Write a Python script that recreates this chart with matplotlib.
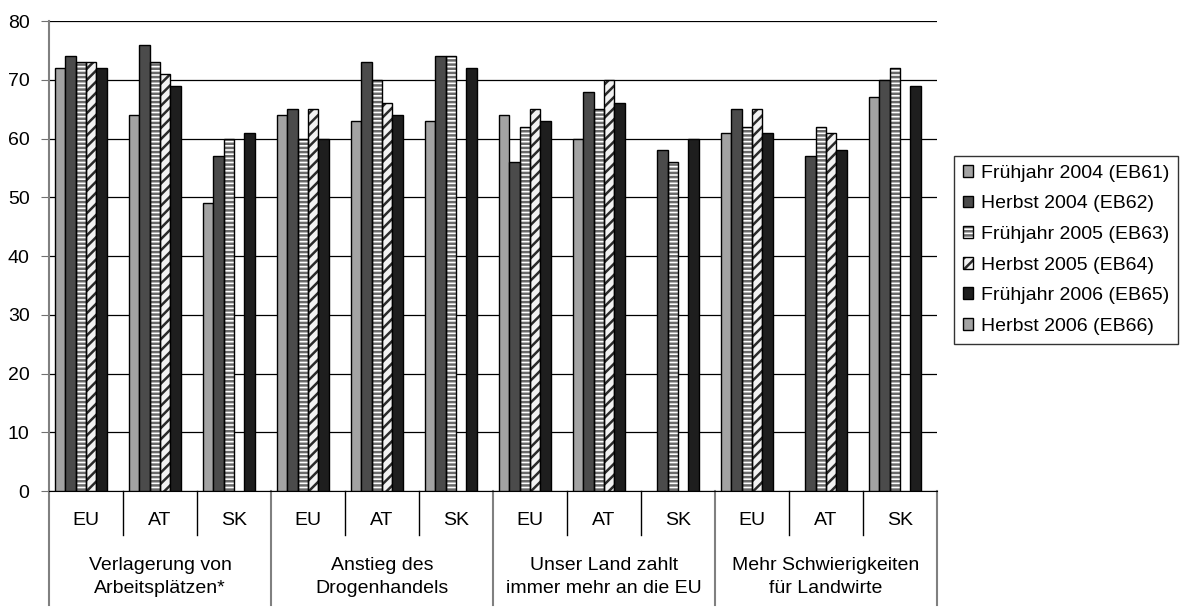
import matplotlib.pyplot as plt
import numpy as np
from matplotlib.patches import Patch

nan = np.nan

countries = ["EU", "AT", "SK"] * 4
groups = ["Verlagerung von\nArbeitsplätzen*", "Anstieg des\nDrogenhandels",
          "Unser Land zahlt\nimmer mehr an die EU", "Mehr Schwierigkeiten\nfür Landwirte"]
yticks = [0, 10, 20, 30, 40, 50, 60, 70, 80]

labels = ["Frühjahr 2004 (EB61)", "Herbst 2004 (EB62)", "Frühjahr 2005 (EB63)",
          "Herbst 2005 (EB64)", "Frühjahr 2006 (EB65)", "Herbst 2006 (EB66)"]

fr_2004 = [72, 64, 49, 64, 63, 63, 64, 60, nan, 61, nan, 67]
he_2004 = [74, 76, 57, 65, 73, 74, 56, 68, 58, 65, 57, 70]
fr_2005 = [73, 73, 60, 60, 70, 74, 62, 65, 56, 62, 62, 72]
he_2005 = [73, 71, nan, 65, 66, nan, 65, 70, nan, 65, 61, nan]
fr_2006 = [72, 69, 61, 60, 64, 72, 63, 66, 60, 61, 58, 69]
he_2006 = [nan] * 12

series = [fr_2004, he_2004, fr_2005, he_2005, fr_2006, he_2006]
# (facecolor, hatch, hatch colour)
styles = [("#a3a3a3", None, None),
          ("#4b4b4b", None, None),
          ("white", "----", "#6a6a6a"),
          ("#f2f2f2", "///", "#2a2a2a"),
          ("#1e1e1e", None, None),
          ("#a3a3a3", None, None)]

plt.rcParams['font.family'] = ['Liberation Sans', 'DejaVu Sans']
plt.rcParams['font.size'] = 14
plt.rcParams['hatch.linewidth'] = 1.8

fig = plt.figure(figsize=(11.83, 6.07), dpi=100)
ax = fig.add_axes([0.0414, 0.1911, 0.7506, 0.7743])

x = np.arange(len(countries))
w = 1 / 7.1
handles = []
for i, (vals, (fc, hatch, hc)) in enumerate(zip(series, styles)):
    vals = np.array(vals, dtype=float)
    pos = x + (i - 2.5) * w
    ok = ~np.isnan(vals)
    if hatch:
        ax.bar(pos[ok], vals[ok], w, color=fc, edgecolor=hc, linewidth=0,
               hatch=hatch, zorder=2)
        ax.bar(pos[ok], vals[ok], w, fill=False, edgecolor='black',
               linewidth=1.0, zorder=3)
        handles.append((Patch(facecolor=fc, edgecolor=hc, linewidth=0, hatch=hatch),
                        Patch(fill=False, edgecolor='black', linewidth=1.0)))
    else:
        ax.bar(pos[ok], vals[ok], w, color=fc, edgecolor='black',
               linewidth=1.0, zorder=3)
        handles.append(Patch(facecolor=fc, edgecolor='black', linewidth=1.0))

ax.set_xlim(-0.5, len(countries) - 0.5)
ax.set_ylim(0, 80)
ax.set_yticks(yticks)
ax.yaxis.grid(True, color='black', linewidth=0.9, zorder=0)
ax.set_axisbelow(True)
ax.tick_params(axis='y', length=6, pad=8, color='#707070')
ax.set_xticks([])
for s in ['top', 'right']:
    ax.spines[s].set_visible(False)
ax.spines['left'].set_color('#808080')
ax.spines['left'].set_linewidth(1.5)
ax.spines['bottom'].set_color('black')

# two-level category axis
trans = ax.get_xaxis_transform()
for k in range(len(countries) + 1):
    xb = k - 0.5
    if k % 3 == 0:
        ax.plot([xb, xb], [0, -0.2426], transform=trans, color='#808080',
                linewidth=1.5, clip_on=False)
    else:
        ax.plot([xb, xb], [0, -0.0936], transform=trans, color='black',
                linewidth=1.0, clip_on=False)
for k, c in enumerate(countries):
    ax.text(k, -0.062, c, transform=trans, ha='center', va='center')
for g, name in enumerate(groups):
    ax.text(3 * g + 1, -0.183, name, transform=trans, ha='center', va='center',
            linespacing=1.45)

leg = fig.legend(handles, labels, loc='upper left', bbox_to_anchor=(0.8064, 0.743),
                 borderaxespad=0, frameon=True, fancybox=False, handlelength=0.55,
                 handleheight=0.55, handletextpad=0.4, labelspacing=0.7,
                 borderpad=0.45)
leg.get_frame().set_edgecolor('black')
leg.get_frame().set_linewidth(1.0)

fig.savefig('out.png', dpi=100)
